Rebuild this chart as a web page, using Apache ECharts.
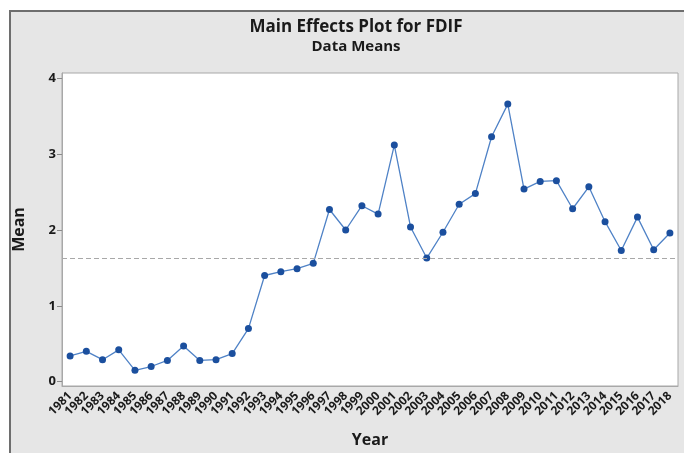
<!DOCTYPE html>
<html>
<head>
<meta charset="UTF-8">
<title>Main Effects Plot for FDIF</title>
<script src="https://cdn.jsdelivr.net/npm/echarts@6/dist/echarts.min.js"></script>
<style>
    html, body { margin: 0; padding: 0; background: #fff; overflow: hidden; }
    #main { width: 684px; height: 453px; }
</style>
</head>
<body>
<div id="main"></div>
<script>
    // years on the x axis
    var years = ['1981', '1982', '1983', '1984', '1985', '1986', '1987', '1988', '1989', '1990',
        '1991', '1992', '1993', '1994', '1995', '1996', '1997', '1998', '1999', '2000',
        '2001', '2002', '2003', '2004', '2005', '2006', '2007', '2008', '2009', '2010',
        '2011', '2012', '2013', '2014', '2015', '2016', '2017', '2018'];
    // data means of FDIF
    var means = [0.34, 0.40, 0.29, 0.42, 0.15, 0.20, 0.28, 0.47, 0.28, 0.29,
        0.37, 0.70, 1.40, 1.45, 1.49, 1.56, 2.27, 2.00, 2.32, 2.21,
        3.12, 2.04, 1.63, 1.97, 2.34, 2.48, 3.23, 3.66, 2.54, 2.64,
        2.65, 2.28, 2.57, 2.11, 1.73, 2.17, 1.74, 1.96];
    var yTicks = [0, 1, 2, 3, 4];

    var font = 'Open Sans';
    var myChart = echarts.init(document.getElementById('main'));
    myChart.setOption({
        animation: false,
        backgroundColor: '#ffffff',
        // grey panel behind the plot, only left and top edges show
        graphic: [{
            type: 'rect',
            z: -10,
            shape: { x: 10, y: 11, width: 700, height: 460 },
            style: { fill: '#e6e6e6' }
        }, {
            type: 'polyline',
            z: -9,
            shape: { points: [[10, 460], [10, 11], [700, 11]] },
            style: { fill: null, stroke: '#6e6e6e', lineWidth: 2 }
        }],
        title: {
            text: 'Main Effects Plot for FDIF',
            subtext: 'Data Means',
            left: 356,
            top: 19,
            padding: 0,
            itemGap: 3,
            textAlign: 'center',
            textStyle: { fontFamily: font, fontWeight: 'bold', fontSize: 17, color: '#1a1a1a' },
            subtextStyle: { fontFamily: font, fontWeight: 'bold', fontSize: 15, color: '#1a1a1a' }
        },
        grid: {
            left: 62, top: 73, right: 6, bottom: 67,
            show: true,
            backgroundColor: '#ffffff',
            borderColor: '#a8a8a8',
            borderWidth: 1
        },
        xAxis: {
            type: 'category',
            data: years,
            boundaryGap: true,
            name: 'Year',
            nameLocation: 'middle',
            nameGap: 46,
            nameTextStyle: { fontFamily: font, fontWeight: 'bold', fontSize: 16, color: '#1a1a1a' },
            axisLine: { onZero: false, lineStyle: { color: '#a8a8a8' } },
            axisTick: { alignWithLabel: true, interval: 0, length: 5, lineStyle: { color: '#8a8a8a' } },
            axisLabel: {
                interval: 0,
                rotate: 45,
                margin: 8,
                fontFamily: font, fontWeight: 'bold', fontSize: 12, color: '#1a1a1a'
            },
            splitLine: { show: false }
        },
        yAxis: {
            type: 'value',
            min: -0.057,
            max: 4.07,
            name: 'Mean',
            nameLocation: 'middle',
            nameRotate: 90,
            nameGap: 35,
            nameTextStyle: { fontFamily: font, fontWeight: 'bold', fontSize: 16, color: '#1a1a1a' },
            axisLine: { show: true, lineStyle: { color: '#a8a8a8' } },
            axisTick: { show: true, customValues: yTicks, length: 5, lineStyle: { color: '#8a8a8a' } },
            axisLabel: {
                customValues: yTicks,
                margin: 6,
                fontFamily: font, fontWeight: 'bold', fontSize: 13, color: '#1a1a1a'
            },
            splitLine: { show: false }
        },
        series: [{
            type: 'line',
            data: means,
            symbol: 'circle',
            symbolSize: 7,
            lineStyle: { color: '#4f82c6', width: 1.3 },
            itemStyle: { color: '#1b4f9e' },
            markLine: {
                silent: true,
                symbol: 'none',
                label: { show: false },
                lineStyle: { color: '#a8a8a8', type: [5, 3], width: 1 },
                data: [{ type: 'average' }]
            }
        }]
    });
</script>
</body>
</html>
